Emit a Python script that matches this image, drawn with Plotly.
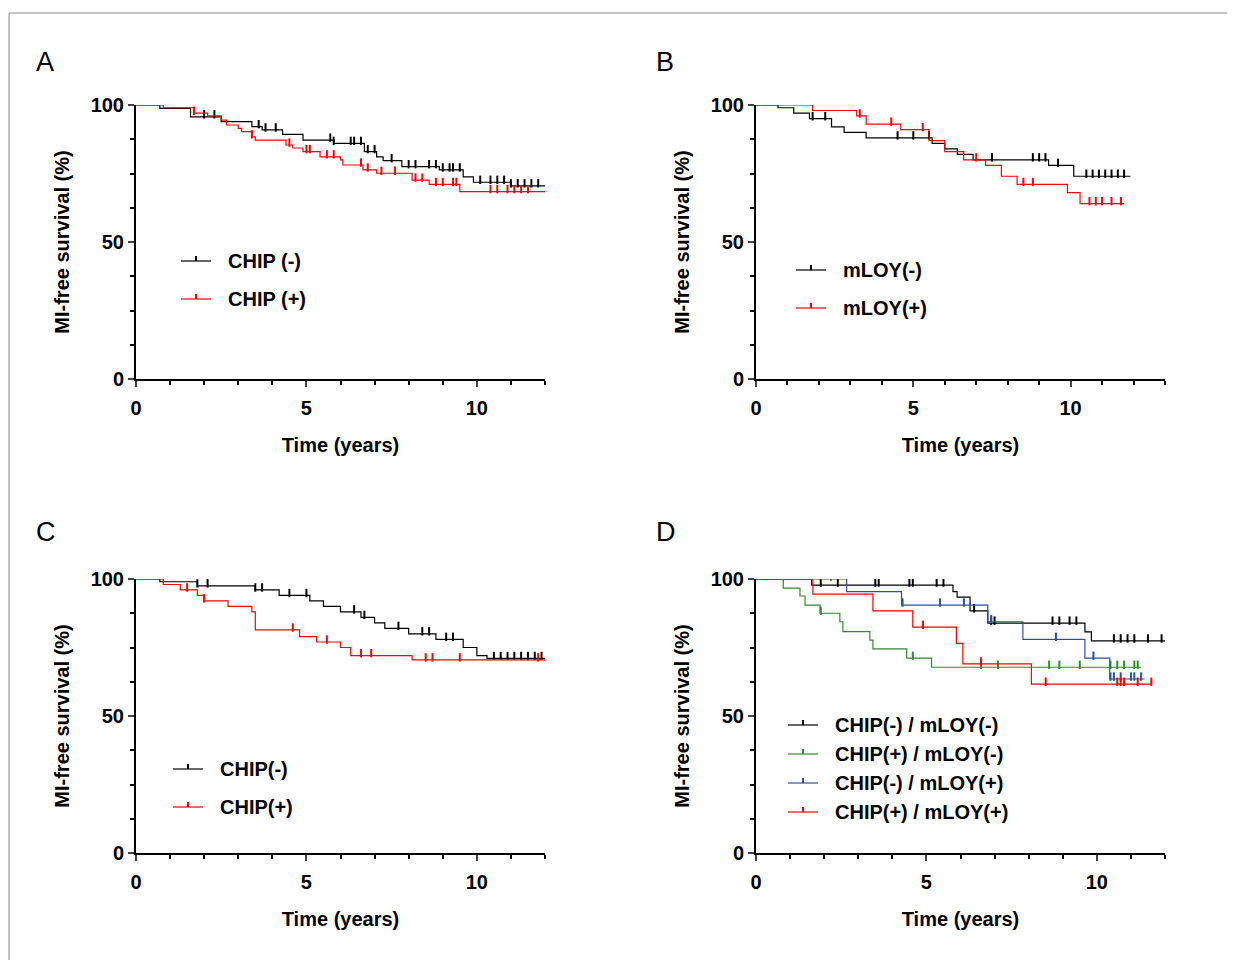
import numpy as np
import plotly.graph_objects as go

# event times (years) and survival (%) after each step
a_neg_t = [0, 0.7, 1.6, 2.5, 3.4, 3.7, 4.3, 4.9, 5.8, 6.7, 7.06, 7.25, 7.8, 8.9, 9.6, 9.9, 11.0]
a_neg_s = [100, 98.8, 95.7, 93.9, 92.1, 90.9, 89.3, 87.2, 86.0, 83.0, 81.1, 79.7, 77.5, 76.3, 73.8, 71.8, 70.5]
a_neg_c = [2.0, 2.3, 3.6, 3.8, 4.1, 5.7, 5.8, 6.3, 6.4, 6.6, 6.8, 7.0, 7.5, 8.0, 8.2, 8.6, 8.8, 9.0, 9.2, 9.3, 9.5, 10.1, 10.4, 10.6, 10.8, 11.0, 11.2, 11.4, 11.6, 11.8]
a_pos_t = [0, 0.8, 1.7, 2.1, 2.5, 2.66, 3.0, 3.1, 3.4, 3.5, 4.4, 4.6, 4.9, 5.4, 6.0, 6.07, 6.66, 7.06, 8.1, 8.6, 9.5]
a_pos_s = [100, 99.0, 97.0, 96.0, 94.5, 92.7, 91.5, 90.3, 88.4, 87.2, 85.4, 84.3, 83.0, 81.1, 80.0, 78.1, 76.3, 75.1, 72.6, 71.0, 68.4]
a_pos_c = [1.7, 3.4, 4.5, 5.0, 5.1, 5.6, 5.8, 6.6, 6.8, 7.2, 7.6, 8.2, 8.4, 8.8, 9.0, 9.3, 9.4, 10.4, 10.6, 10.9, 11.1, 11.3, 11.5]

b_neg_t = [0, 0.7, 1.2, 1.7, 2.4, 2.8, 3.5, 5.6, 6.0, 6.4, 6.9, 9.3, 10.1]
b_neg_s = [100, 99, 97, 95, 92, 90, 88, 86, 84, 82, 80, 78, 74]
b_neg_c = [1.8, 2.2, 4.5, 5.0, 5.5, 7.5, 8.8, 9.0, 9.2, 9.6, 10.5, 10.7, 10.9, 11.1, 11.3, 11.5, 11.7]
b_pos_t = [0, 1.8, 3.2, 3.5, 4.6, 5.5, 6.0, 6.6, 7.3, 7.8, 8.3, 9.9, 10.3]
b_pos_s = [100, 98, 96, 93, 91, 87, 83, 80, 78, 74, 71, 68, 64]
b_pos_c = [3.3, 4.3, 5.3, 7.0, 8.5, 8.8, 10.6, 10.8, 11.0, 11.3, 11.6]

c_neg_t = [0, 0.7, 1.8, 3.5, 4.2, 5.1, 5.5, 6.0, 6.6, 7.0, 7.3, 8.0, 8.8, 9.6, 10.0, 10.3]
c_neg_s = [100, 99, 97.5, 96, 94, 92, 90, 88, 86, 84, 82, 80, 78, 75, 72, 71]
c_neg_c = [1.8, 2.1, 3.5, 3.7, 4.5, 5.0, 6.4, 6.7, 7.7, 8.4, 8.6, 9.1, 9.3, 10.5, 10.7, 10.9, 11.1, 11.3, 11.5, 11.7, 11.9]
c_pos_t = [0, 0.8, 1.3, 1.8, 2.0, 2.7, 3.4, 3.5, 4.8, 5.3, 6.0, 6.3, 8.1]
c_pos_s = [100, 98, 96, 94, 92, 90, 88, 81.4, 79, 77, 75, 72, 70.5]
c_pos_c = [1.5, 2.0, 4.6, 5.6, 6.6, 6.9, 8.5, 8.7, 9.5, 11.8]

d1_t = [0, 1.63, 5.78, 5.9, 6.28, 6.8, 9.65, 9.84]
d1_s = [100, 97.8, 95.4, 93.4, 88.4, 83.9, 80.7, 77.4]
d1_c = [1.9, 2.4, 3.5, 3.6, 4.5, 4.6, 5.3, 5.5, 6.4, 6.9, 7.0, 8.7, 8.9, 9.2, 9.4, 10.5, 10.7, 10.9, 11.1, 11.5, 11.9]
d2_t = [0, 0.8, 1.29, 1.44, 1.88, 2.46, 2.55, 3.34, 3.43, 4.42, 5.15]
d2_s = [100, 96.7, 93.8, 90.5, 87.5, 84.4, 80.8, 77.7, 74.5, 71.1, 67.8]
d2_c = [1.9, 4.6, 6.6, 7.1, 8.6, 8.9, 9.5, 10.4, 10.6, 10.8, 11.1, 11.2]
d3_t = [0, 2.66, 4.27, 6.8, 7.83, 9.65, 10.38]
d3_s = [100, 95.4, 90.5, 84.4, 78.0, 71.1, 63.5]
d3_c = [2.2, 4.3, 5.4, 6.1, 6.9, 8.8, 9.9, 10.4, 10.5, 10.7, 11.0, 11.1, 11.3]
d4_t = [0, 1.67, 3.43, 4.6, 5.88, 6.07, 8.08]
d4_s = [100, 94.5, 88.4, 82.4, 76.5, 69.0, 61.6]
d4_c = [4.9, 6.6, 8.5, 10.6, 10.7, 10.8, 11.2, 11.6]

BLACK, RED, GREEN, BLUE = "#000000", "#ff0000", "#2e8b2e", "#2e4fa8"

panels = [
    # letter, x px range, y px range, xmax, series, legend, letter y px
    ("A", (136, 545), (105, 379), 12,
     [(a_neg_t, a_neg_s, a_neg_c, BLACK, "CHIP (-)", 12), (a_pos_t, a_pos_s, a_pos_c, RED, "CHIP (+)", 12)],
     (181, 211, 261, 38), 45),
    ("B", (756, 1165), (105, 379), 13,
     [(b_neg_t, b_neg_s, b_neg_c, BLACK, "mLOY(-)", 11.9), (b_pos_t, b_pos_s, b_pos_c, RED, "mLOY(+)", 11.7)],
     (796, 826, 270, 38), 45),
    ("C", (136, 545), (579, 853), 12,
     [(c_neg_t, c_neg_s, c_neg_c, BLACK, "CHIP(-)", 12), (c_pos_t, c_pos_s, c_pos_c, RED, "CHIP(+)", 12)],
     (173, 203, 769, 38), 532),
    ("D", (756, 1165), (579, 853), 12,
     [(d1_t, d1_s, d1_c, BLACK, "CHIP(-) / mLOY(-)", 12), (d2_t, d2_s, d2_c, GREEN, "CHIP(+) / mLOY(-)", 11.3),
      (d3_t, d3_s, d3_c, BLUE, "CHIP(-) / mLOY(+)", 11.4), (d4_t, d4_s, d4_c, RED, "CHIP(+) / mLOY(+)", 11.6)],
     (788, 818, 725, 29), 532),
]

W, H = 1235, 960
OFF = 8  # page body margin


def px(x):
    return (x - OFF) / W


def py(y):
    return 1 - (y - OFF) / H


fig = go.Figure()
font = "Liberation Sans, Arial, sans-serif"
bold = dict(family=font, color="black", weight="bold")

for i, (letter, (x0, x1), (y0, y1), xmax, series, (lx0, lx1, ly, ldy), lety) in enumerate(panels):
    n = "" if i == 0 else str(i + 1)
    for t, s, c, col, name, tend in series:
        xs = list(t) + [tend]
        ys = list(s) + [s[-1]]
        fig.add_trace(go.Scatter(x=xs, y=ys, mode="lines", line=dict(color=col, width=1.2, shape="hv"),
                                 xaxis="x" + n, yaxis="y" + n, showlegend=False))
        cs = np.array(c)
        idx = np.searchsorted(np.array(t), cs, side="right") - 1
        cy = np.array(s)[idx] + 0.9
        fig.add_trace(go.Scatter(x=cs, y=cy, mode="markers", xaxis="x" + n, yaxis="y" + n, showlegend=False,
                                 marker=dict(symbol="line-ns", size=6, line=dict(color=col, width=2))))
    ax = dict(domain=[px(x0), px(x1)], range=[0, xmax], tickvals=[0, 5, 10], ticks="outside", ticklen=6,
              tickwidth=2, showline=True, linecolor="black", linewidth=2, showgrid=False, zeroline=False,
              automargin=False, ticklabelstandoff=4,
              minor=dict(dtick=1, tick0=0, ticks="outside", ticklen=4, tickwidth=2, tickcolor="black"),
              tickfont=dict(size=20, **bold), anchor="y" + n,
              title=dict(text="Time (years)", font=dict(size=20, **bold), standoff=20))
    ay = dict(domain=[py(y1), py(y0)], range=[0, 100], tickvals=[0, 50, 100], ticks="outside",
              ticklen=6, tickwidth=2, showline=True, linecolor="black", linewidth=2, showgrid=False,
              zeroline=False, anchor="x" + n, automargin=False,
              minor=dict(dtick=12.5, tick0=0, ticks="outside", ticklen=4, tickwidth=2, tickcolor="black"),
              tickfont=dict(size=20, **bold),
              title=dict(text="MI-free survival (%)", font=dict(size=20, **bold), standoff=16))
    fig.update_layout({"xaxis" + n: ax, "yaxis" + n: ay})
    fig.add_annotation(x=px(x0 - 102), y=py(lety), xref="paper", yref="paper", text=letter,
                       showarrow=False, font=dict(size=27, family=font, color="black"), xanchor="left")
    for k, (_, _, _, col, name, _) in enumerate(series):
        yy = py(ly + k * ldy)
        fig.add_shape(type="line", xref="paper", yref="paper", x0=px(lx0), x1=px(lx1), y0=yy, y1=yy,
                      line=dict(color=col, width=1.2))
        fig.add_shape(type="line", xref="paper", yref="paper", x0=px((lx0 + lx1) / 2), x1=px((lx0 + lx1) / 2),
                      y0=yy, y1=yy + 5 / H, line=dict(color=col, width=2))
        fig.add_annotation(x=px(lx1 + 15), y=yy, xref="paper", yref="paper", text=name, yanchor="middle",
                           showarrow=False, xanchor="left", font=dict(size=20, **bold))

fig.add_shape(type="rect", xref="paper", yref="paper", x0=px(9), x1=1.01, y0=-0.01, y1=py(13),
              line=dict(color="#888888", width=1))
fig.update_layout(width=W, height=H, margin=dict(l=0, r=0, t=0, b=0), paper_bgcolor="white",
                  plot_bgcolor="white", showlegend=False)
fig.write_html("out.html")
